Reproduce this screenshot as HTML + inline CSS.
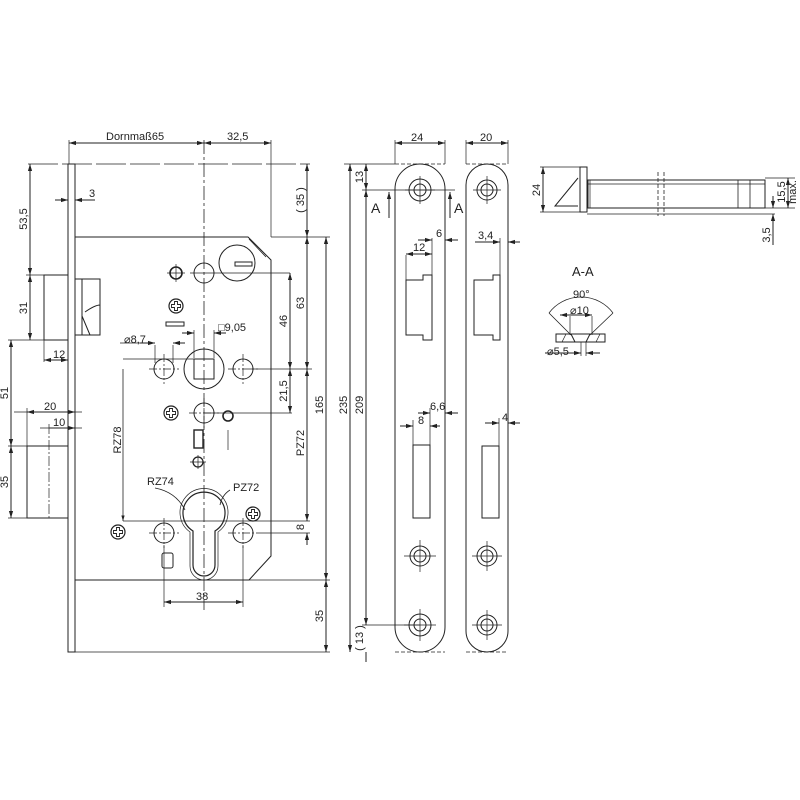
<!DOCTYPE html>
<html><head><meta charset="utf-8"><style>
html,body{margin:0;padding:0;background:#fff}
svg{display:block}
text{font-family:"Liberation Sans",sans-serif;font-size:11px;fill:#222}
</style></head><body>
<svg width="800" height="800" viewBox="0 0 800 800" xmlns="http://www.w3.org/2000/svg">
<defs>
<marker id="a" viewBox="0 0 10 10" refX="10" refY="5" markerWidth="7" markerHeight="7" orient="auto-start-reverse"><path d="M0,2 L10,5 L0,8 z" fill="#222"/></marker>
<g id="ph"><circle r="7" fill="none" stroke="#222" stroke-width="1.2"/><path d="M-1.5,-4.5h3v3h3v3h-3v3h-3v-3h-3v-3h3z" fill="none" stroke="#222" stroke-width="0.9"/></g>
<g id="hole"><circle r="10" fill="none" stroke="#222" stroke-width="1"/><path d="M-15,0h30M0,-15v30" stroke="#222" stroke-width="0.7" stroke-dasharray="8,2,2,2"/></g>
</defs>
<g stroke="#222" stroke-width="1" fill="none">
<rect x="68" y="164" width="7" height="488"/>
<path d="M75,237 H248 L271,260 V556 L249,580 H75"/>
<rect x="44" y="275" width="24" height="65"/>
<path d="M75,279 H100 V335 H75 M82,279 V335 M85,312 Q95,305 100,305 M82,316 L90,335"/>
<line x1="204" y1="140" x2="204" y2="610" stroke-width="0.8" stroke-dasharray="14,3,3,3"/>
<line x1="69" y1="143" x2="204" y2="143" marker-start="url(#a)" marker-end="url(#a)"/>
<line x1="204" y1="143" x2="271" y2="143" marker-start="url(#a)" marker-end="url(#a)"/>
<line x1="69" y1="140" x2="69" y2="164" stroke-width="0.7"/>
<line x1="271" y1="140" x2="271" y2="237" stroke-width="0.7"/>
<line x1="28" y1="164" x2="310" y2="164" stroke-width="0.7" stroke-dasharray="30,4"/>
<line x1="55" y1="200" x2="68" y2="200" marker-end="url(#a)"/>
<line x1="95" y1="200" x2="75" y2="200" marker-end="url(#a)"/>
<line x1="30" y1="164" x2="30" y2="275" marker-start="url(#a)" marker-end="url(#a)"/>
<line x1="30" y1="275" x2="30" y2="340" marker-start="url(#a)" marker-end="url(#a)"/>
<line x1="26" y1="275" x2="44" y2="275" stroke-width="0.7"/>
<line x1="8" y1="340" x2="44" y2="340" stroke-width="0.7"/>
<line x1="44" y1="340" x2="44" y2="362" stroke-width="0.7"/>
<line x1="44" y1="360" x2="68" y2="360" marker-start="url(#a)" marker-end="url(#a)"/>
<line x1="11" y1="340" x2="11" y2="446" marker-start="url(#a)" marker-end="url(#a)"/>
<line x1="11" y1="446" x2="11" y2="518" marker-start="url(#a)" marker-end="url(#a)"/>
<rect x="27" y="446" width="41" height="72"/>
<line x1="8" y1="446" x2="27" y2="446" stroke-width="0.7"/>
<line x1="8" y1="518" x2="27" y2="518" stroke-width="0.7"/>
<line x1="27" y1="408" x2="27" y2="446" stroke-width="0.7"/>
<line x1="49" y1="424" x2="49" y2="520" stroke-width="0.7" stroke-dasharray="10,2,2,2"/>
<line x1="14" y1="412" x2="82" y2="412" stroke-width="0.7"/>
<line x1="27" y1="412" x2="75" y2="412" marker-start="url(#a)" marker-end="url(#a)"/>
<line x1="40" y1="428" x2="82" y2="428" stroke-width="0.7"/>
<line x1="49" y1="428" x2="75" y2="428" marker-end="url(#a)"/>
<circle cx="176" cy="273" r="6" stroke-width="1.6"/>
<path d="M167,273h18M176,264v18" stroke-width="0.7"/>
<circle cx="204" cy="273" r="10"/>
<path d="M190,273h100" stroke-width="0.7"/>
<circle cx="237" cy="263" r="18"/>
<rect x="235" y="262" width="17" height="4"/>
<path d="M249,239 L266,257" stroke-width="0.8"/>
<use href="#ph" x="176" y="306"/>
<rect x="166" y="322" width="18" height="4"/>
<circle cx="204" cy="369" r="20"/>
<rect x="194" y="359" width="20" height="20"/>
<use href="#hole" x="164" y="369"/>
<use href="#hole" x="243" y="369"/>
<path d="M194,330v28M214,330v28" stroke-width="0.7"/>
<line x1="182" y1="333" x2="194" y2="333" marker-end="url(#a)"/>
<line x1="226" y1="333" x2="214" y2="333" marker-end="url(#a)"/>
<path d="M155,345v18M173,345v18" stroke-width="0.7"/>
<line x1="120" y1="343" x2="155" y2="343" stroke-width="0.7"/>
<line x1="140" y1="343" x2="155" y2="343" marker-end="url(#a)"/>
<line x1="185" y1="343" x2="173" y2="343" marker-end="url(#a)"/>
<path d="M123,359H194 M250,369H312" stroke-width="0.7"/>
<use href="#ph" x="171" y="413"/>
<use href="#hole" x="204" y="413"/>
<circle cx="228" cy="416" r="5" stroke-width="1.6"/>
<path d="M228,430v20 M204,413H292" stroke-width="0.7"/>
<rect x="194" y="430" width="9" height="18" stroke-width="1.4"/>
<circle cx="198" cy="462" r="5" stroke-width="1.3"/>
<path d="M190,462h16M198,455v14" stroke-width="0.7"/>
<path d="M193,531 A21,21 0 1 1 215,531 V565 A11,11 0 0 1 193,565 Z" stroke-width="1.2"/>
<path d="M190,532 A24,24 0 1 1 218,532 V566 A14,14 0 0 1 190,566 Z" stroke-width="0.7"/>
<use href="#hole" x="164" y="533"/>
<use href="#hole" x="243" y="533"/>
<use href="#ph" x="118" y="532"/>
<use href="#ph" x="253" y="514"/>
<rect x="162" y="553" width="11" height="15" rx="2"/>
<path d="M123,521H310 M258,533H310" stroke-width="0.7"/>
<line x1="123" y1="521" x2="123" y2="369" marker-start="url(#a)" stroke-width="0.8"/>
<path d="M155,488 Q176,492 185,510 M230,490 Q222,495 220,505" stroke-width="0.8"/>
<path d="M164,545v62M243,545v62" stroke-width="0.7"/>
<line x1="164" y1="602" x2="243" y2="602" marker-start="url(#a)" marker-end="url(#a)"/>
<line x1="290" y1="273" x2="290" y2="369" marker-start="url(#a)" marker-end="url(#a)"/>
<line x1="290" y1="369" x2="290" y2="413" marker-start="url(#a)" marker-end="url(#a)"/>
<line x1="307" y1="164" x2="307" y2="237" marker-start="url(#a)" marker-end="url(#a)"/>
<line x1="307" y1="237" x2="307" y2="369" marker-start="url(#a)" marker-end="url(#a)"/>
<line x1="307" y1="369" x2="307" y2="521" marker-start="url(#a)" marker-end="url(#a)"/>
<line x1="307" y1="545" x2="307" y2="533" marker-end="url(#a)"/>
<line x1="326" y1="237" x2="326" y2="580" marker-start="url(#a)" marker-end="url(#a)"/>
<line x1="326" y1="580" x2="326" y2="652" marker-start="url(#a)" marker-end="url(#a)"/>
<path d="M271,237H330 M75,580H330 M75,652H330" stroke-width="0.7"/>
<!-- strike plate 1 -->
<path d="M395,627 V189 A25,25 0 0 1 445,189 V627 A25,25 0 0 1 395,627"/>
<path d="M395,164H445M395,652H445" stroke-width="0.7" stroke-dasharray="4,2"/>
<circle cx="420" cy="190" r="11"/><circle cx="420" cy="190" r="6"/>
<path d="M405,190h30M420,176v28" stroke-width="0.7"/>
<circle cx="420" cy="556" r="10"/><circle cx="420" cy="556" r="6"/>
<path d="M404,556h32M420,540v32" stroke-width="0.7"/>
<circle cx="420" cy="625" r="11"/><circle cx="420" cy="625" r="6"/>
<path d="M404,625h32M420,609v32" stroke-width="0.7"/>
<path d="M406,280 H423 V275 H432 V340 H423 V335 H406 Z"/>
<rect x="413" y="445" width="17" height="73"/>
<line x1="395" y1="143" x2="445" y2="143" marker-start="url(#a)" marker-end="url(#a)"/>
<path d="M395,140v24M445,140v24" stroke-width="0.7"/>
<path d="M344,164H395 M362,190H455 M362,625H420" stroke-width="0.7"/>
<line x1="350" y1="164" x2="350" y2="652" marker-start="url(#a)" marker-end="url(#a)"/>
<line x1="366" y1="164" x2="366" y2="190" marker-start="url(#a)" marker-end="url(#a)"/>
<line x1="366" y1="190" x2="366" y2="625" marker-start="url(#a)" marker-end="url(#a)"/>
<line x1="366" y1="652" x2="366" y2="662"/>
<line x1="389" y1="218" x2="389" y2="192" marker-end="url(#a)"/>
<line x1="450" y1="218" x2="450" y2="192" marker-end="url(#a)"/>
<path d="M406,255v25M432,238v37M445,236v4" stroke-width="0.7"/>
<line x1="418" y1="240" x2="432" y2="240" marker-end="url(#a)"/>
<line x1="458" y1="240" x2="445" y2="240" marker-end="url(#a)"/>
<line x1="406" y1="254" x2="432" y2="254" marker-start="url(#a)" marker-end="url(#a)"/>
<path d="M413,420v25M430,408v37" stroke-width="0.7"/>
<line x1="418" y1="413" x2="430" y2="413" marker-end="url(#a)"/>
<line x1="458" y1="413" x2="445" y2="413" marker-end="url(#a)"/>
<line x1="400" y1="426" x2="413" y2="426" marker-end="url(#a)"/>
<line x1="440" y1="426" x2="430" y2="426" marker-end="url(#a)"/>
<!-- strike plate 2 -->
<path d="M466,631 V185 A21,21 0 0 1 508,185 V631 A21,21 0 0 1 466,631"/>
<path d="M466,164H508M466,652H508" stroke-width="0.7" stroke-dasharray="4,2"/>
<circle cx="487" cy="190" r="10"/><circle cx="487" cy="190" r="6"/>
<path d="M473,190h28M487,176v28" stroke-width="0.7"/>
<circle cx="487" cy="556" r="10"/><circle cx="487" cy="556" r="6"/>
<path d="M472,556h30M487,541v30" stroke-width="0.7"/>
<circle cx="487" cy="625" r="10"/><circle cx="487" cy="625" r="6"/>
<path d="M472,625h30M487,610v30" stroke-width="0.7"/>
<path d="M474,280 H493 V275 H500 V340 H493 V335 H474 Z"/>
<rect x="482" y="446" width="17" height="72"/>
<line x1="466" y1="143" x2="508" y2="143" marker-start="url(#a)" marker-end="url(#a)"/>
<path d="M466,140v24M508,140v24" stroke-width="0.7"/>
<line x1="475" y1="242" x2="500" y2="242" marker-end="url(#a)"/>
<line x1="520" y1="242" x2="508" y2="242" marker-end="url(#a)"/>
<path d="M500,238v37M499,418v28" stroke-width="0.7"/>
<line x1="485" y1="423" x2="499" y2="423" marker-end="url(#a)"/>
<line x1="520" y1="423" x2="508" y2="423" marker-end="url(#a)"/>
<!-- side view -->
<rect x="580" y="167" width="7" height="45"/>
<path d="M578,178 L555,206 L578,206"/>
<rect x="588" y="180" width="177" height="28"/>
<path d="M588,184H765 M590,208V180" stroke-width="0.7"/>
<path d="M658,172V216 M664,172V216" stroke-width="0.8" stroke-dasharray="4,2"/>
<path d="M738,180V208 M750,180V208" stroke-width="0.8"/>
<path d="M540,167H580 M540,212H580 M765,178H795 M765,208H795 M587,214H775" stroke-width="0.7"/>
<line x1="543" y1="167" x2="543" y2="212" marker-start="url(#a)" marker-end="url(#a)"/>
<line x1="788" y1="178" x2="788" y2="208" marker-start="url(#a)" marker-end="url(#a)"/>
<line x1="773" y1="196" x2="773" y2="208" marker-end="url(#a)"/>
<line x1="773" y1="245" x2="773" y2="214" marker-end="url(#a)"/>
<!-- A-A section -->
<path d="M549,313 A40,40 0 0 1 613,313" stroke-width="0.8"/>
<path d="M549,313 L571,335 M613,313 L590,335" stroke-width="0.8"/>
<path d="M570,316V335 M592,316V335" stroke-width="0.7"/>
<line x1="560" y1="315" x2="592" y2="315" marker-start="url(#a)" marker-end="url(#a)"/>
<path d="M556,334H605V342H556Z M571,334L575,342 M590,334L586,342"/>
<path d="M562,342L566,334 M596,342L600,334 M581,342V356 M586,342V356" stroke-width="0.7"/>
<line x1="545" y1="353" x2="581" y2="353" marker-end="url(#a)"/>
<line x1="600" y1="353" x2="586" y2="353" marker-end="url(#a)"/>
</g>
<g>
<text x="106" y="140">Dornmaß65</text>
<text x="227" y="140">32,5</text>
<text x="89" y="197">3</text>
<text x="53" y="358">12</text>
<text x="44" y="410">20</text>
<text x="53" y="426">10</text>
<text x="124" y="343">⌀8,7</text>
<text x="218" y="331">□9,05</text>
<text x="147" y="485">RZ74</text>
<text x="233" y="491">PZ72</text>
<text x="196" y="600">38</text>
<text x="411" y="141">24</text>
<text x="480" y="141">20</text>
<text x="436" y="237">6</text>
<text x="413" y="251">12</text>
<text x="478" y="239">3,4</text>
<text x="430" y="410">6,6</text>
<text x="418" y="424">8</text>
<text x="502" y="421">4</text>
<text x="371" y="213" style="font-size:14px">A</text>
<text x="454" y="213" style="font-size:14px">A</text>
<text x="572" y="276" style="font-size:13px">A-A</text>
<text x="573" y="298">90°</text>
<text x="570" y="314">⌀10</text>
<text x="547" y="355">⌀5,5</text>
<g text-anchor="middle">
<text transform="translate(27,219) rotate(-90)">53,5</text>
<text transform="translate(27,308) rotate(-90)">31</text>
<text transform="translate(8,393) rotate(-90)">51</text>
<text transform="translate(8,482) rotate(-90)">35</text>
<text transform="translate(121,440) rotate(-90)">RZ78</text>
<text transform="translate(287,321) rotate(-90)">46</text>
<text transform="translate(287,391) rotate(-90)">21,5</text>
<text transform="translate(304,200) rotate(-90)">( 35 )</text>
<text transform="translate(304,303) rotate(-90)">63</text>
<text transform="translate(304,443) rotate(-90)">PZ72</text>
<text transform="translate(304,527) rotate(-90)">8</text>
<text transform="translate(323,405) rotate(-90)">165</text>
<text transform="translate(323,616) rotate(-90)">35</text>
<text transform="translate(347,405) rotate(-90)">235</text>
<text transform="translate(363,405) rotate(-90)">209</text>
<text transform="translate(363,177) rotate(-90)">13</text>
<text transform="translate(363,638) rotate(-90)">( 13 )</text>
<text transform="translate(540,190) rotate(-90)">24</text>
<text transform="translate(785,192) rotate(-90)">15,5</text>
<text transform="translate(796,192) rotate(-90)">max.</text>
<text transform="translate(770,235) rotate(-90)">3,5</text>
</g>
</g>
</svg>
</body></html>
